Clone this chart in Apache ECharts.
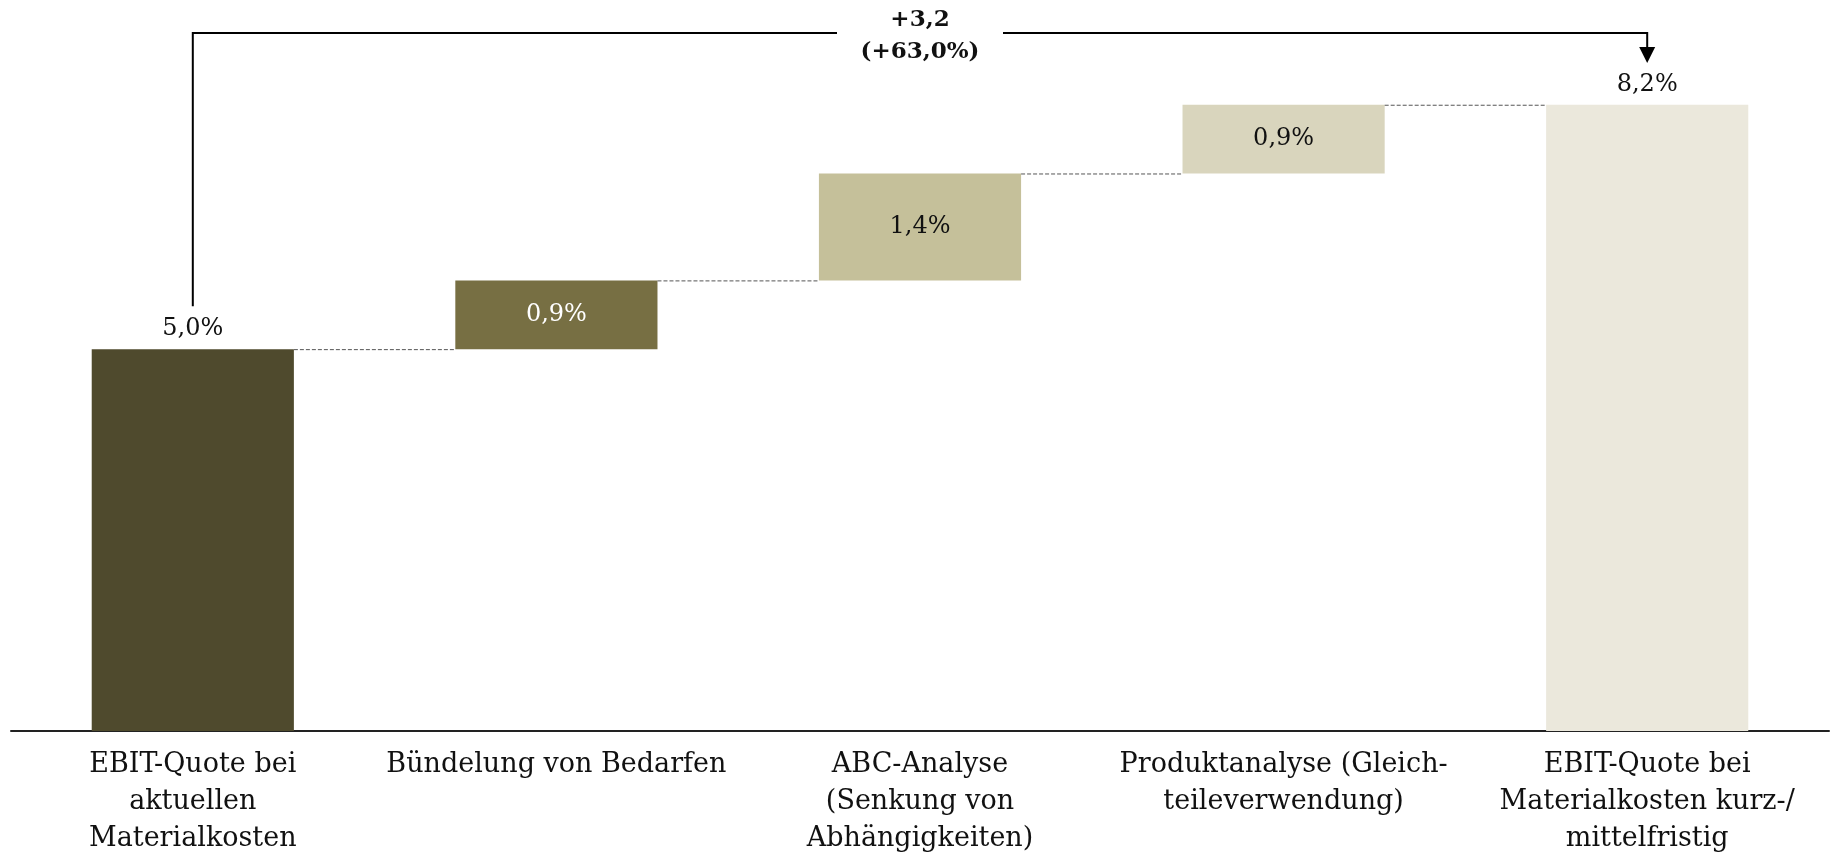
<!DOCTYPE html>
<html>
<head>
<meta charset="utf-8">
<script src="https://cdn.jsdelivr.net/npm/echarts@6/dist/echarts.min.js"></script>
<style>
  html, body { margin: 0; padding: 0; background: #fff; }
  #chart { width: 1831px; height: 857px; }
</style>
</head>
<body>
<div id="chart"></div>
<script>
// Kategorien (x-Achse)
const categories = [
  'EBIT-Quote bei\naktuellen\nMaterialkosten',
  'Bündelung von Bedarfen',
  'ABC-Analyse\n(Senkung von\nAbhängigkeiten)',
  'Produktanalyse (Gleich-\nteileverwendung)',
  'EBIT-Quote bei\nMaterialkosten kurz-/\nmittelfristig'
]
// Werte in %
const values = [5.0, 0.9, 1.4, 0.9, 8.2]
// Summenbalken (Start/Ende) vs. Zwischenschritte
const isTotal = [true, false, false, false, true]
const barColors = ['#4F4A2D', '#776F43', '#C5C09A', '#D9D5BD', '#EBE8DC']
const labelColors = ['#111', '#fff', '#111', '#111', '#111']
// Klammer oben
const bracketLabel = ['+3,2', '(+63,0%)']

const FONT = 'DejaVu Serif'
const BAR_RATIO = 0.556

// unsichtbare Basis der Wasserfall-Balken
const base = []
let running = 0
values.forEach((v, i) => {
  if (isTotal[i]) {
    base.push(0)
    running = v
  } else {
    base.push(running)
    running += v
  }
})
// Verbindungslinien: Oberkante von Balken i
const connectors = []
for (let i = 0; i < values.length - 1; i++) {
  connectors.push([i, base[i] + values[i]])
}

const fmt = v => v.toFixed(1).replace('.', ',') + '%'

const chart = echarts.init(document.getElementById('chart'))

const option = {
  animation: false,
  backgroundColor: '#fff',
  grid: { left: 11, right: 2, top: 36, bottom: 125 },
  xAxis: {
    type: 'category',
    data: categories,
    axisLine: { show: true, lineStyle: { color: '#222', width: 2 } },
    axisTick: { show: false },
    axisLabel: {
      interval: 0,
      margin: 15,
      color: '#111',
      fontFamily: FONT,
      fontSize: 27,
      lineHeight: 37
    }
  },
  yAxis: {
    type: 'value',
    min: 0,
    max: 9.1,
    show: false,
    splitLine: { show: false }
  },
  series: [
    {
      type: 'bar',
      stack: 'wf',
      barWidth: (BAR_RATIO * 100) + '%',
      itemStyle: { color: 'transparent' },
      silent: true,
      data: base
    },
    {
      type: 'bar',
      stack: 'wf',
      barWidth: (BAR_RATIO * 100) + '%',
      data: values.map((v, i) => ({
        value: v,
        itemStyle: { color: barColors[i] },
        label: {
          show: true,
          position: isTotal[i] ? 'top' : 'inside',
          distance: 8,
          color: labelColors[i],
          fontFamily: FONT,
          fontSize: 24,
          formatter: () => fmt(v)
        }
      }))
    },
    {
      type: 'custom',
      silent: true,
      z: 5,
      renderItem: (params, api) => {
        const p = api.coord([api.value(0), api.value(1)])
        const band = api.size([1, 0])[0]
        const half = band * BAR_RATIO / 2
        return {
          type: 'line',
          shape: { x1: p[0] + half, y1: p[1] + 0.5, x2: p[0] + band - half, y2: p[1] + 0.5 },
          style: { stroke: '#555', lineWidth: 1, lineDash: [4, 2] }
        }
      },
      data: connectors
    }
  ]
}

chart.setOption(option)

// Klammer von Start- zu Endbalken
const first = chart.convertToPixel({ gridIndex: 0 }, [0, values[0]])
const last = chart.convertToPixel({ gridIndex: 0 }, [values.length - 1, values[values.length - 1]])
const topY = 33
const midX = (first[0] + last[0]) / 2
const gap = 83

chart.setOption({
  graphic: [
    {
      type: 'polyline',
      shape: { points: [[first[0], first[1] - 43], [first[0], topY], [midX - gap, topY]] },
      style: { stroke: '#000', lineWidth: 2, fill: null }
    },
    {
      type: 'polyline',
      shape: { points: [[midX + gap, topY], [last[0], topY], [last[0], 48]] },
      style: { stroke: '#000', lineWidth: 2, fill: null }
    },
    {
      type: 'polygon',
      shape: { points: [[last[0] - 8, 47], [last[0] + 8, 47], [last[0], 63]] },
      style: { fill: '#000' }
    },
    {
      type: 'text',
      x: midX,
      y: 4,
      style: {
        text: bracketLabel.join('\n'),
        fill: '#111',
        font: 'bold 23px "' + FONT + '"',
        lineHeight: 32,
        align: 'center',
        verticalAlign: 'top'
      }
    }
  ]
})
</script>
</body>
</html>
